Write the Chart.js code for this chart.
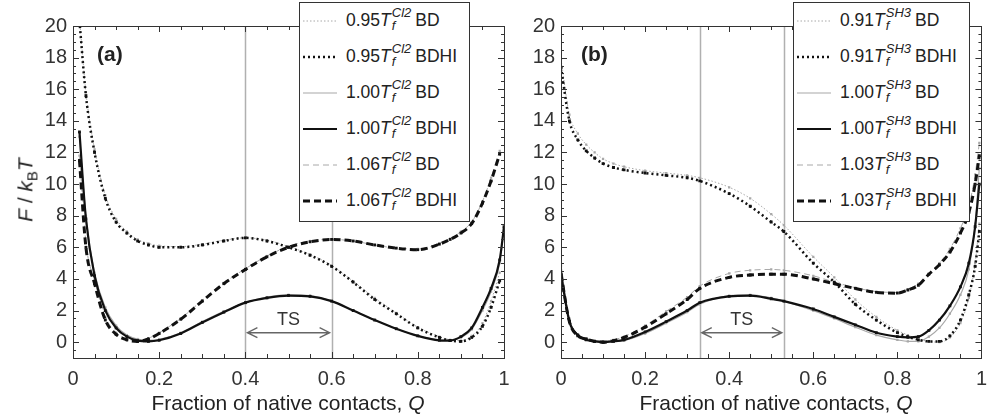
<!DOCTYPE html>
<html lang="en">
<head>
  <meta charset="UTF-8">
  <title>Free energy profiles</title>
  <script src="https://cdn.jsdelivr.net/npm/chart.js"></script>
  <style>
    body { margin: 0; background: #fff; font-family: "Liberation Sans", Arial, sans-serif; color: #222; }
    #wrap { position: relative; width: 996px; height: 418px; overflow: hidden; }
    canvas { position: absolute; top: 0; }
    #chartA { left: 0; }
    #chartB { left: 510px; }
    .legend { position: absolute; top: 2px; height: 220px; background: #fff; border: 1px solid #333; box-sizing: border-box; z-index: 2; }
    .legend .item { height: 36px; display: flex; align-items: center; font-size: 17.5px; white-space: nowrap; }
    .legend svg { margin-left: 3px; margin-right: 9px; flex: none; }
    .ss { display: inline-block; vertical-align: middle; line-height: 1; font-size: 13px; font-style: italic; margin-left: 1px; margin-right: 4px; position: relative; top: -2px; }
    .ss span { display: block; }
    .panel { position: absolute; font-weight: bold; font-size: 21px; z-index: 2; }
    .xtitle { position: absolute; top: 391px; font-size: 21px; width: 400px; text-align: center; z-index: 2; }
    .ytitle { position: absolute; left: 27px; top: 190px; font-size: 21px; transform: translate(-50%, -50%) rotate(-90deg); white-space: nowrap; z-index: 2; }
    .ytitle sub { font-size: 15px; font-style: normal; }
  </style>
</head>
<body>
<div id="wrap">
  <canvas id="chartA" width="520" height="418"></canvas>
  <canvas id="chartB" width="486" height="418"></canvas>

  <div class="panel" style="left:97px; top:42px;">(a)</div>
  <div class="panel" style="left:581px; top:42px;">(b)</div>
  <div class="ytitle"><i>F</i> / <i>k</i><sub>B</sub><i>T</i></div>
  <div class="xtitle" style="left:88px;">Fraction of native contacts, <i>Q</i></div>
  <div class="xtitle" style="left:576px;">Fraction of native contacts, <i>Q</i></div>

  <div class="legend" id="legendA" style="left:299px; width:171px;"></div>
  <div class="legend" id="legendB" style="left:793px; width:177px;"></div>
</div>

<script>
// panel (a) : CI2
const qA = [0.015, 0.03, 0.05, 0.075, 0.1, 0.125, 0.15, 0.175, 0.2, 0.25, 0.3, 0.35, 0.4, 0.45, 0.5,
            0.55, 0.6, 0.65, 0.7, 0.75, 0.8, 0.85, 0.875, 0.9, 0.925, 0.95, 0.97, 0.99, 1.0];
const a095BD   = [20.5, 15.8, 12.2, 9.3, 7.8, 7.0, 6.5, 6.25, 6.1, 6.05, 6.2, 6.45, 6.6, 6.45, 6.05,
                  5.55, 4.85, 3.85, 2.8, 1.85, 0.95, 0.35, 0.15, 0.1, 0.4, 1.2, 2.6, 4.4, null];
const a095BDHI = [20.3, 15.6, 12.0, 9.1, 7.6, 6.9, 6.4, 6.15, 6.0, 6.0, 6.15, 6.4, 6.6, 6.4, 6.0,
                  5.5, 4.8, 3.8, 2.7, 1.8, 0.9, 0.3, 0.1, 0.05, 0.3, 1.0, 2.2, 3.9, null];
const a100BD   = [13.0, 8.0, 4.4, 2.2, 1.05, 0.45, 0.2, 0.12, 0.18, 0.6, 1.3, 1.95, 2.5, 2.85, 3.0,
                  2.95, 2.6, 2.0, 1.4, 0.85, 0.4, 0.15, 0.12, 0.3, 0.8, 2.0, 3.2, 5.0, 7.1];
const a100BDHI = [13.3, 7.8, 4.2, 2.0, 0.9, 0.35, 0.1, 0.05, 0.12, 0.55, 1.25, 1.9, 2.5, 2.8, 2.95,
                  2.9, 2.6, 2.0, 1.4, 0.85, 0.4, 0.12, 0.1, 0.35, 0.9, 2.2, 3.4, 5.2, 7.3];
const a106BD   = [11.8, 6.3, 3.9, 1.6, 0.6, 0.2, 0.1, 0.25, 0.6, 1.5, 2.65, 3.75, 4.65, 5.45, 6.05,
                  6.4, 6.5, 6.4, 6.15, 5.95, 5.9, 6.25, 6.55, 7.0, 7.6, 8.9, 10.4, 12.1, null];
const a106BDHI = [11.5, 6.0, 3.7, 1.4, 0.5, 0.15, 0.05, 0.2, 0.55, 1.45, 2.6, 3.7, 4.6, 5.4, 6.0,
                  6.35, 6.5, 6.4, 6.15, 5.95, 5.85, 6.2, 6.5, 6.9, 7.5, 8.8, 10.2, 11.9, null];
const tsA = [0.4, 0.6];

// panel (b) : SH3
const qB = [0, 0.02, 0.04, 0.06, 0.08, 0.1, 0.125, 0.15, 0.2, 0.25, 0.3, 0.33, 0.4, 0.45, 0.5, 0.53,
            0.6, 0.65, 0.7, 0.75, 0.8, 0.825, 0.85, 0.875, 0.9, 0.925, 0.95, 0.97, 0.985, 0.995];
const b091BD   = [17.9, 14.4, 13.2, 12.5, 12.0, 11.6, 11.3, 11.1, 10.85, 10.7, 10.55, 10.4, 9.8, 9.1, 8.1, 7.4,
                  5.4, 4.1, 2.7, 1.6, 0.75, 0.45, 0.2, 0.05, 0.0, 0.3, 1.2, 2.8, 5.0, 7.5];
const b091BDHI = [17.4, 14.0, 12.8, 12.1, 11.65, 11.3, 11.05, 10.9, 10.7, 10.55, 10.4, 10.2, 9.4, 8.6, 7.6, 7.0,
                  5.0, 3.8, 2.4, 1.4, 0.6, 0.35, 0.15, 0.05, 0.05, 0.4, 1.4, 3.0, 4.8, 7.0];
const b100BD   = [4.8, 1.4, 0.5, 0.2, 0.1, 0.05, 0.05, 0.1, 0.55, 1.2, 1.9, 2.4, 2.95, 3.0, 2.8, 2.6,
                  2.0, 1.5, 0.95, 0.45, 0.15, 0.05, 0.05, 0.35, 0.9, 1.8, 3.0, 4.6, 7.5, 11.0];
const b100BDHI = [4.3, 1.3, 0.45, 0.15, 0.05, 0.0, 0.05, 0.15, 0.65, 1.3, 2.0, 2.5, 2.9, 2.95, 2.75, 2.6,
                  2.1, 1.6, 1.1, 0.6, 0.35, 0.3, 0.35, 0.75, 1.4, 2.3, 3.5, 5.0, 7.3, 10.0];
const b103BD   = [4.9, 1.5, 0.5, 0.25, 0.1, 0.05, 0.15, 0.35, 1.05, 1.95, 2.85, 3.55, 4.35, 4.55, 4.6, 4.55,
                  4.2, 3.8, 3.45, 3.2, 3.15, 3.35, 3.7, 4.3, 5.0, 5.9, 7.2, 8.6, 10.6, 12.6];
const b103BDHI = [4.3, 1.3, 0.4, 0.2, 0.05, 0.0, 0.1, 0.3, 0.95, 1.8, 2.7, 3.4, 4.1, 4.25, 4.3, 4.3,
                  4.0, 3.7, 3.4, 3.15, 3.1, 3.3, 3.6, 4.3, 4.9, 5.7, 6.9, 8.2, 10.0, 11.8];
const tsB = [0.33, 0.53];

const yTickLabels = [0, 2, 4, 6, 8, 10, 12, 14, 16, 18, 20];

// line looks: BD thin grey, BDHI thick black
const looks = {
  dotBD:   { color: '#a8a8a8', width: 1,   dash: [1.5, 2] },
  dotHI:   { color: '#111',    width: 2.5, dash: [2, 3] },
  solBD:   { color: '#a8a8a8', width: 1.2, dash: [] },
  solHI:   { color: '#111',    width: 2.2, dash: [] },
  dashBD:  { color: '#a8a8a8', width: 1,   dash: [6, 4] },
  dashHI:  { color: '#111',    width: 3,   dash: [7, 4] }
};

const tickFont = { size: 20, family: '"Liberation Sans", Arial, sans-serif' };

function ds(label, q, ys, look, order) {
  return {
    label: label,
    data: q.map((x, i) => ({ x: x, y: ys[i] })),
    borderColor: look.color,
    backgroundColor: look.color,
    borderWidth: look.width,
    borderDash: look.dash,
    pointStyle: 'rect',
    pointRadius: look.color === '#111' ? 2 : 1.6,
    pointBorderWidth: 0,
    pointBackgroundColor: look.color,
    cubicInterpolationMode: 'monotone',
    spanGaps: false,
    order: order
  };
}

// frame, inward ticks, TS lines and arrow
const deco = {
  id: 'deco',
  beforeDatasetsDraw(chart, args, opts) {
    const ctx = chart.ctx, a = chart.chartArea, xs = chart.scales.x;
    ctx.save();
    ctx.strokeStyle = '#b0b0b0';
    ctx.lineWidth = 1.5;
    opts.ts.forEach(v => {
      const px = Math.round(xs.getPixelForValue(v)) + 0.5;
      ctx.beginPath(); ctx.moveTo(px, a.top); ctx.lineTo(px, a.bottom); ctx.stroke();
    });
    ctx.restore();
  },
  afterDatasetsDraw(chart, args, opts) {
    const ctx = chart.ctx, a = chart.chartArea, xs = chart.scales.x, ys = chart.scales.y;
    ctx.save();
    ctx.strokeStyle = '#333';
    ctx.lineWidth = 1;
    ctx.strokeRect(Math.round(a.left) + 0.5, Math.round(a.top) + 0.5, Math.round(a.right - a.left), Math.round(a.bottom - a.top));
    ctx.beginPath();
    for (let i = 0; i <= 20; i++) {
      const px = Math.round(xs.getPixelForValue(i * 0.05)) + 0.5;
      const len = i % 4 === 0 ? 6 : 4;
      ctx.moveTo(px, a.bottom); ctx.lineTo(px, a.bottom - len);
      ctx.moveTo(px, a.top); ctx.lineTo(px, a.top + len);
    }
    for (let i = -2; i <= 40; i++) {
      const py = Math.round(ys.getPixelForValue(i * 0.5)) + 0.5;
      const len = i % 4 === 0 ? 6 : 3;
      ctx.moveTo(a.left, py); ctx.lineTo(a.left + len, py);
      ctx.moveTo(a.right, py); ctx.lineTo(a.right - len, py);
    }
    ctx.stroke();

    // TS arrow
    const x1 = xs.getPixelForValue(opts.ts[0]) + 2, x2 = xs.getPixelForValue(opts.ts[1]) - 2;
    const y = ys.getPixelForValue(opts.arrowY);
    ctx.strokeStyle = '#666';
    ctx.lineWidth = 1.4;
    ctx.beginPath();
    ctx.moveTo(x1, y); ctx.lineTo(x2, y);
    ctx.moveTo(x1 + 10, y - 5); ctx.lineTo(x1, y); ctx.lineTo(x1 + 10, y + 5);
    ctx.moveTo(x2 - 10, y - 5); ctx.lineTo(x2, y); ctx.lineTo(x2 - 10, y + 5);
    ctx.stroke();
    ctx.fillStyle = '#333';
    ctx.font = '18px "Liberation Sans", Arial, sans-serif';
    ctx.textAlign = 'center';
    ctx.textBaseline = 'middle';
    ctx.fillText('TS', (x1 + x2) / 2, ys.getPixelForValue(opts.textY));
    ctx.restore();
  }
};

function makeChart(id, q, series, ts, yWidth, padRight) {
  const ctx = document.getElementById(id).getContext('2d');
  return new Chart(ctx, {
    type: 'line',
    data: {
      datasets: [
        ds('BD dot', q, series[0], looks.dotBD, 2),
        ds('BD sol', q, series[2], looks.solBD, 2),
        ds('BD dash', q, series[4], looks.dashBD, 2),
        ds('BDHI dot', q, series[1], looks.dotHI, 1),
        ds('BDHI sol', q, series[3], looks.solHI, 1),
        ds('BDHI dash', q, series[5], looks.dashHI, 1)
      ]
    },
    options: {
      responsive: false,
      animation: false,
      layout: { padding: { top: 26, right: padRight, left: 0, bottom: 0 } },
      plugins: {
        legend: { display: false },
        tooltip: { enabled: false },
        deco: { ts: ts, arrowY: 0.6, textY: 1.4 }
      },
      scales: {
        x: {
          type: 'linear',
          min: 0, max: 1,
          grid: { display: false, drawTicks: false },
          border: { display: false },
          ticks: {
            stepSize: 0.2, padding: 9, color: '#333', font: tickFont,
            callback: v => String(Number(v.toFixed(1)))
          },
          afterFit: s => { s.height = 60; }
        },
        y: {
          min: -1, max: 20,
          grid: { display: false, drawTicks: false },
          border: { display: false },
          ticks: { padding: 6, color: '#333', font: tickFont },
          afterBuildTicks: s => { s.ticks = yTickLabels.map(v => ({ value: v })); },
          afterFit: s => { s.width = yWidth; }
        }
      }
    },
    plugins: [deco]
  });
}

makeChart('chartA', qA, [a095BD, a095BDHI, a100BD, a100BDHI, a106BD, a106BDHI], tsA, 73, 16);
makeChart('chartB', qB, [b091BD, b091BDHI, b100BD, b100BDHI, b103BD, b103BDHI], tsB, 51, 5);

// legends (HTML so the T_f super/subscripts stay real text)
function sample(look) {
  const dash = look.dash.length ? ` stroke-dasharray="${look.dash.join(' ')}"` : '';
  return `<svg width="34" height="10"><line x1="0" y1="5" x2="34" y2="5" stroke="${look.color}" stroke-width="${look.width}"${dash}/></svg>`;
}
function buildLegend(id, temps, sup) {
  const keys = [['dotBD', 'dotHI'], ['solBD', 'solHI'], ['dashBD', 'dashHI']];
  let html = '';
  temps.forEach((t, i) => {
    ['BD', 'BDHI'].forEach((m, j) => {
      html += `<div class="item">${sample(looks[keys[i][j]])}<span>${t}<i>T</i><span class="ss"><span>${sup}</span><span>f</span></span>${m}</span></div>`;
    });
  });
  document.getElementById(id).innerHTML = html;
}
buildLegend('legendA', ['0.95', '1.00', '1.06'], 'Cl2');
buildLegend('legendB', ['0.91', '1.00', '1.03'], 'SH3');
</script>
</body>
</html>
